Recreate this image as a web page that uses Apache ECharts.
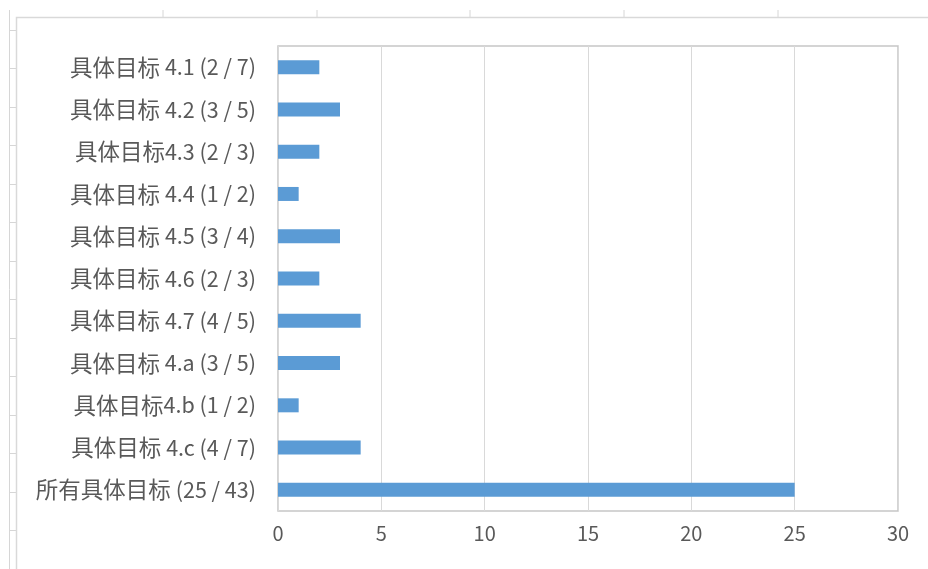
<!DOCTYPE html>
<html><head><meta charset="utf-8">
<script src="https://cdn.jsdelivr.net/npm/echarts@6/dist/echarts.min.js"></script>
<style>html,body{margin:0;padding:0;background:#fff}#c{width:928px;height:569px}</style>
</head><body><div id="c"></div>
<script>
const categories = ['具体目标 4.1 (2 / 7)','具体目标 4.2 (3 / 5)','具体目标4.3 (2 / 3)','具体目标 4.4 (1 / 2)','具体目标 4.5 (3 / 4)','具体目标 4.6 (2 / 3)','具体目标 4.7 (4 / 5)','具体目标 4.a (3 / 5)','具体目标4.b (1 / 2)','具体目标 4.c (4 / 7)','所有具体目标 (25 / 43)'];
const values = [2,3,2,1,3,2,4,3,1,4,25];
const xTicks = [0,5,10,15,20,25,30];

const chart = echarts.init(document.getElementById('c'));
const g = [];
const lc = '#d6d6d6';
[163,317,470,624,778].forEach(x=>g.push({type:'line',shape:{x1:x,y1:10,x2:x,y2:17},style:{stroke:lc,lineWidth:1}}));
g.push({type:'line',shape:{x1:9.5,y1:10,x2:9.5,y2:569},style:{stroke:lc,lineWidth:1}});
[30,68,107,145,184,222,261,299,338,376,415,453,492,530].forEach(y=>g.push({type:'line',shape:{x1:9,y1:y+0.5,x2:16,y2:y+0.5},style:{stroke:lc,lineWidth:1}}));
g.push({type:'polyline',shape:{points:[[16.5,580],[16.5,17.5],[940,17.5]]},style:{stroke:'#d9d9d9',lineWidth:1.5,fill:null}});

const fam = '"Noto Sans CJK SC", sans-serif';
function richLabel(s){
  let out='', cur='', curType=null;
  for(const ch of s){
    const t = /[\u4e00-\u9fff]/.test(ch)?'c':'n';
    if(t!==curType && cur){out+='{'+curType+'|'+cur+'}';cur='';}
    curType=t; cur+=ch;
  }
  if(cur) out+='{'+curType+'|'+cur+'}';
  return out;
}

chart.setOption({
  animation:false,
  graphic:g,
  grid:{left:278,right:30,top:46,bottom:58,show:true,borderColor:'#c6c6c6',borderWidth:1.5,containLabel:false},
  xAxis:{type:'value',min:0,max:30,interval:5,
    axisLine:{show:false},axisTick:{show:false},
    splitLine:{lineStyle:{color:'#d9d9d9',width:1}},
    axisLabel:{color:'#595959',fontSize:20,fontFamily:fam,margin:12,
      formatter:v=>xTicks.includes(v)?String(v):''}},
  yAxis:{type:'category',data:categories,inverse:true,
    axisLine:{show:false},axisTick:{show:false},
    axisLabel:{color:'#595959',fontFamily:fam,margin:22,formatter:richLabel,
      rich:{c:{fontSize:22.5,color:'#595959',fontFamily:fam},n:{fontSize:21.5,color:'#595959',fontFamily:fam}}}},
  series:[{type:'bar',data:values,barWidth:14,itemStyle:{color:'#5b9bd5'}}]
});
</script></body></html>
